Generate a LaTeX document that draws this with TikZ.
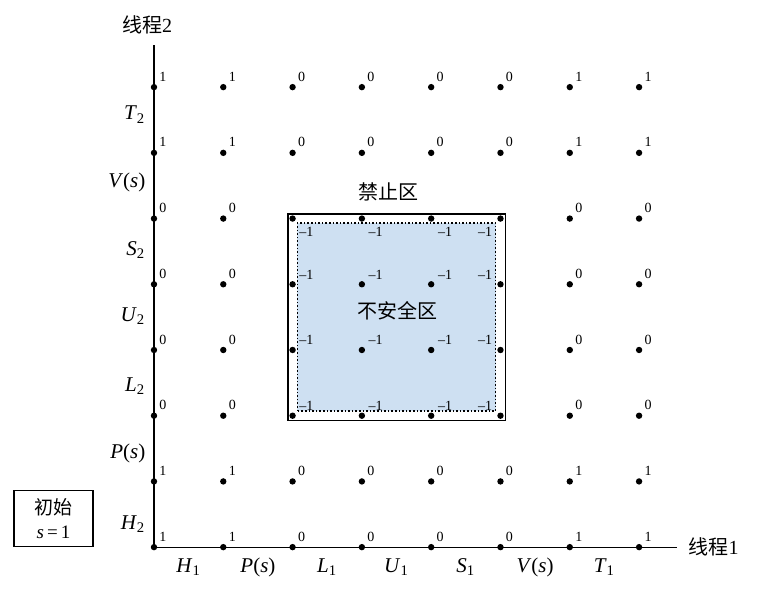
\documentclass[tikz,border=0pt]{standalone}
\usepackage{fontspec}
\setmainfont{Liberation Serif}
\newfontfamily\cjk{Noto Sans CJK SC}
\usetikzlibrary{calc}
\definecolor{unsafeBlue}{RGB}{206,224,242}
\newcommand\ilab[2]{\textit{#1}\textsubscript{#2}}
\newcommand\pslab[1]{\textit{#1}(\textit{s})}

\begin{document}
\begin{tikzpicture}[x=1.218cm, y=1.155cm,
  every node/.style={font=\fontsize{9.5}{11}\selectfont},
  pt/.style={circle, fill=black, inner sep=0pt, minimum size=3.2pt},
  num/.style={inner sep=0pt, font=\fontsize{7}{8}\selectfont},
  tick/.style={inner sep=0pt, font=\fontsize{10.5}{12}\selectfont},
  zh/.style={inner sep=0pt, font=\cjk\fontsize{10}{12}\selectfont},
  axis/.style={line width=0.6pt},
  forbid/.style={draw, line width=0.8pt},
  unsafe/.style={fill=unsafeBlue, draw, densely dotted, line width=0.8pt},
  startbox/.style={draw, line width=0.6pt, align=center, inner sep=0pt,
                   minimum width=39.5pt, minimum height=28pt},
]
  \useasboundingbox (-2.222,-0.731) rectangle (8.947,8.326);

  \path[unsafe] (2.07,2.07) rectangle (4.93,4.93);
  \path[forbid] (1.93,1.93) rectangle (5.07,5.07);

  \foreach \i in {0,...,7}
    \foreach \j in {0,...,7}
      \node[pt] (d-\i-\j) at (\i,\j) {};

  \coordinate (xend) at (7.55,0);
  \coordinate (yend) at (0,7.64);
  \draw[axis] (yend) -- (d-0-0.center) -- (xend);

  \foreach \j in {0,1,6,7}
    \foreach \v [count=\i from 0] in {1,1,0,0,0,0,1,1}
      \node[num] (v-\i-\j) at ($(d-\i-\j)+(0.13,0.16)$) {\v};
  \foreach \j in {2,...,5}
    \foreach \i in {0,1,6,7}
      \node[num] (v-\i-\j) at ($(d-\i-\j)+(0.13,0.16)$) {0};
  \foreach \j in {2,...,5}
    \foreach \i in {2,...,5} {
      \pgfmathsetmacro\dx{\i==5 ? -0.22 : 0.2}
      \pgfmathsetmacro\dy{\j==5 ? -0.2 : 0.15}
      \node[num] (v-\i-\j) at ($(d-\i-\j)+(\dx,\dy)$) {\textendash1};
    }

  \foreach \y/\lab [count=\k] in {0.35/\ilab{H}{2}, 1.42/\pslab{P}, 2.45/\ilab{L}{2},
                                  3.52/\ilab{U}{2}, 4.52/\ilab{S}{2}, 5.55/\pslab{V},
                                  6.58/\ilab{T}{2}}
    \node[tick, anchor=east] (r\k) at (-0.12,\y) {\lab};
  \foreach \x/\lab [count=\k] in {0.5/\ilab{H}{1}, 1.5/\pslab{P}, 2.5/\ilab{L}{1},
                                  3.5/\ilab{U}{1}, 4.5/\ilab{S}{1}, 5.5/\pslab{V},
                                  6.5/\ilab{T}{1}}
    \node[tick, anchor=base] (c\k) at (\x,-0.38) {\lab};

  \node[zh] (thr2) at (-0.1,7.95) {线程\textrm{2}};
  \node[zh, anchor=west] (thr1) at (7.71,0) {线程\textrm{1}};
  \node[zh] (forbidlbl) at (3.38,5.40) {禁止区};
  \node[zh] (unsafelbl) at (3.52,3.6) {不安全区};
  \node[startbox] (start) at (-1.45,0.43)
    {{\cjk 初始}\\[1pt]\textit{s}\,=\,1};
\end{tikzpicture}
\end{document}
